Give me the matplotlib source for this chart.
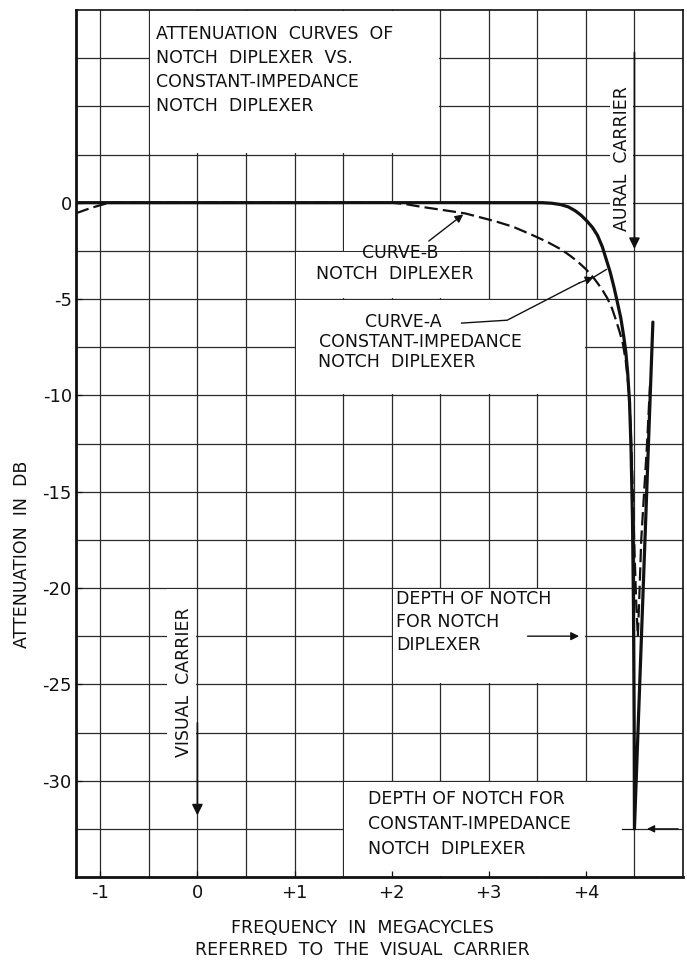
import numpy as np
import matplotlib
matplotlib.use("Agg")
import matplotlib.pyplot as plt
from matplotlib.patches import Rectangle

plt.rcParams['font.family'] = ['DejaVu Sans']

# Frequency (MHz, referred to the visual carrier) and attenuation (dB)
# Curve A: constant-impedance notch diplexer (solid)
curve_a_freq = [-1.25, 3.55, 3.65, 3.74, 3.82, 3.89, 3.95, 4.01, 4.07, 4.12,
                4.17, 4.21, 4.25, 4.29, 4.33, 4.36, 4.39, 4.41, 4.43, 4.45,
                4.465, 4.48, 4.49, 4.497, 4.50, 4.69]
curve_a_db = [0.0, 0.0, -0.03, -0.1, -0.22, -0.42, -0.65, -0.95, -1.3, -1.7,
              -2.3, -2.95, -3.6, -4.4, -5.3, -6.0, -6.95, -7.7, -8.8, -10.4,
              -12.8, -16.5, -21.0, -27.0, -32.5, -6.2]

# Curve B: notch diplexer (dashed)
curve_b_freq = [-1.25, -1.1, -0.95, -0.85, 2.0, 2.15, 2.31, 2.5, 2.76, 3.07,
                3.25, 3.44, 3.6, 3.75, 3.85, 3.92, 4.0, 4.09, 4.16, 4.22,
                4.27, 4.31, 4.35, 4.38, 4.41, 4.44, 4.46, 4.48, 4.50, 4.52,
                4.535, 4.55, 4.57, 4.60, 4.63, 4.66]
curve_b_db = [-0.55, -0.28, -0.06, 0.0, 0.0, -0.08, -0.22, -0.36, -0.56, -0.97,
              -1.25, -1.66, -2.03, -2.44, -2.8, -3.08, -3.45, -3.97, -4.45, -4.95,
              -5.5, -6.1, -6.75, -7.3, -8.2, -9.6, -11.5, -14.5, -18.0, -21.0,
              -22.5, -20.5, -17.5, -15.0, -12.5, -9.5]

visual_carrier = 0.0
aural_carrier = 4.5
notch_depth_b = -22.5
notch_depth_a = -32.5

x_ticks = [-1, 0, 1, 2, 3, 4]
x_tick_labels = ["-1", "0", "+1", "+2", "+3", "+4"]
y_ticks = [0, -5, -10, -15, -20, -25, -30]
y_tick_labels = ["0", "-5", "-10", "-15", "-20", "-25", "-30"]

W, H = 687, 960
fig = plt.figure(figsize=(W / 100, H / 100), dpi=100)
fig.patch.set_facecolor("white")
ax = fig.add_axes([76 / W, 1 - 877 / H, (683 - 76) / W, (877 - 10) / H])
ax.set_xlim(-1.25, 5.0)
ax.set_ylim(-35, 10)

INK = "#111111"
FS = 12.5

# graph-paper grid
for gx in np.arange(-1.0, 5.0, 0.5):
    ax.axvline(gx, color="#2a2a2a", lw=0.9, zorder=0.6)
for gy in np.arange(-32.5, 10.0, 2.5):
    ax.axhline(gy, color="#2a2a2a", lw=0.9, zorder=0.6)

# cleared panels behind the lettering
dx, dy = 0.012, 0.06
panels = [
    (-0.5, 2.5, 2.5, 10.0),      # title
    (1.0, 3.0, -5.0, -2.5),      # curve-B label
    (1.5, 2.72, -2.56, 0.0),
    (1.0, 4.0, -10.0, -5.0),     # curve-A label
    (2.0, 4.0, -25.0, -20.0),    # notch depth B
    (1.5, 4.5, -35.0, -30.0),    # notch depth A
    (-0.32, 0.0, -29.9, -20.0),  # visual carrier
    (4.24, 4.5, -2.1, 7.0),      # aural carrier
]
for x0, x1, y0, y1 in panels:
    ax.add_patch(Rectangle((x0 + dx, y0 + dy), (x1 - x0) - 2 * dx,
                           (y1 - y0) - 2 * dy, facecolor="white",
                           edgecolor="none", zorder=1))

# curves
ax.plot(curve_a_freq, curve_a_db, color=INK, lw=2.3, zorder=4,
        solid_joinstyle="round", solid_capstyle="round")
ax.plot(curve_b_freq, curve_b_db, color=INK, lw=1.6, zorder=3,
        dashes=(6, 2.3))

# axes styling
for side in ("left", "bottom"):
    ax.spines[side].set_linewidth(2.0)
for side in ("top", "right"):
    ax.spines[side].set_linewidth(1.2)
for s in ax.spines.values():
    s.set_color(INK)
    s.set_zorder(5)
ax.set_xticks(x_ticks)
ax.set_xticklabels(x_tick_labels)
ax.set_yticks(y_ticks)
ax.set_yticklabels(y_tick_labels)
ax.tick_params(direction="in", length=4, width=0.9, labelsize=13,
               colors=INK, pad=3)
ax.tick_params(axis="x", pad=5)

txt = dict(color=INK, fontsize=FS, zorder=6)

# title block
title_lines = ["ATTENUATION  CURVES  OF", "NOTCH  DIPLEXER  VS.",
               "CONSTANT-IMPEDANCE", "NOTCH  DIPLEXER"]
for i, line in enumerate(title_lines):
    ax.text(-0.43, 8.77 - 1.25 * i, line, ha="left", va="center", **txt)

# curve B label and arrow
ax.text(2.09, -2.61, "CURVE-B", ha="center", va="center", **txt)
ax.text(2.03, -3.68, "NOTCH  DIPLEXER", ha="center", va="center", **txt)
ax.annotate("", xy=(2.76, -0.52), xytext=(2.36, -2.08),
            arrowprops=dict(arrowstyle="-|>", color=INK, lw=1.0,
                            mutation_scale=12), zorder=6)

# curve A label and leader
ax.text(2.12, -6.21, "CURVE-A", ha="center", va="center", **txt)
ax.text(2.30, -7.25, "CONSTANT-IMPEDANCE", ha="center", va="center", **txt)
ax.text(2.05, -8.29, "NOTCH  DIPLEXER", ha="center", va="center", **txt)
ax.plot([2.72, 3.19, 3.93], [-6.25, -6.1, -4.17], color=INK, lw=1.0, zorder=6)
ax.annotate("", xy=(4.08, -3.87), xytext=(3.93, -4.17),
            arrowprops=dict(arrowstyle="-|>", color=INK, lw=1.0,
                            mutation_scale=12, shrinkA=0, shrinkB=0), zorder=6)
ax.plot([4.08, 4.21], [-3.87, -3.47], color=INK, lw=1.0, zorder=6)

# notch depth, notch diplexer
for i, line in enumerate(["DEPTH OF NOTCH", "FOR NOTCH", "DIPLEXER"]):
    ax.text(2.05, -20.55 - 1.2 * i, line, ha="left", va="center", **txt)
ax.annotate("", xy=(3.93, notch_depth_b), xytext=(3.40, notch_depth_b),
            arrowprops=dict(arrowstyle="-|>", color=INK, lw=1.0,
                            mutation_scale=12, shrinkA=0, shrinkB=0), zorder=6)

# notch depth, constant-impedance notch diplexer
for i, line in enumerate(["DEPTH OF NOTCH FOR", "CONSTANT-IMPEDANCE",
                          "NOTCH  DIPLEXER"]):
    ax.text(1.76, -30.95 - 1.3 * i, line, ha="left", va="center", **txt)
ax.plot([4.37, 4.5], [notch_depth_a, notch_depth_a], color=INK, lw=0.9,
        zorder=6)
ax.annotate("", xy=(4.63, notch_depth_a), xytext=(4.95, notch_depth_a),
            arrowprops=dict(arrowstyle="-|>", color=INK, lw=0.9,
                            mutation_scale=11, shrinkA=0, shrinkB=0), zorder=6)

# carrier markers
ax.text(-0.14, -24.9, "VISUAL  CARRIER", rotation=90, ha="center",
        va="center", **txt)
ax.annotate("", xy=(visual_carrier, -31.8), xytext=(visual_carrier, -27.0),
            arrowprops=dict(arrowstyle="-|>", color=INK, lw=1.2,
                            mutation_scale=16, shrinkA=0, shrinkB=0), zorder=6)
ax.text(4.37, 2.28, "AURAL  CARRIER", rotation=90, ha="center",
        va="center", **txt)
ax.annotate("", xy=(aural_carrier, -2.4), xytext=(aural_carrier, 7.8),
            arrowprops=dict(arrowstyle="-|>", color=INK, lw=1.2,
                            mutation_scale=16, shrinkA=0, shrinkB=0), zorder=6)

# axis titles
fig.text(22 / W, 1 - 554 / H, "ATTENUATION  IN  DB", rotation=90,
         ha="center", va="center", color=INK, fontsize=FS)
fig.text(362 / W, 1 - 928 / H, "FREQUENCY  IN  MEGACYCLES", ha="center",
         va="center", color=INK, fontsize=FS)
fig.text(362 / W, 1 - 950 / H, "REFERRED  TO  THE  VISUAL  CARRIER",
         ha="center", va="center", color=INK, fontsize=FS)

fig.savefig("out.png", dpi=100, facecolor="white")
